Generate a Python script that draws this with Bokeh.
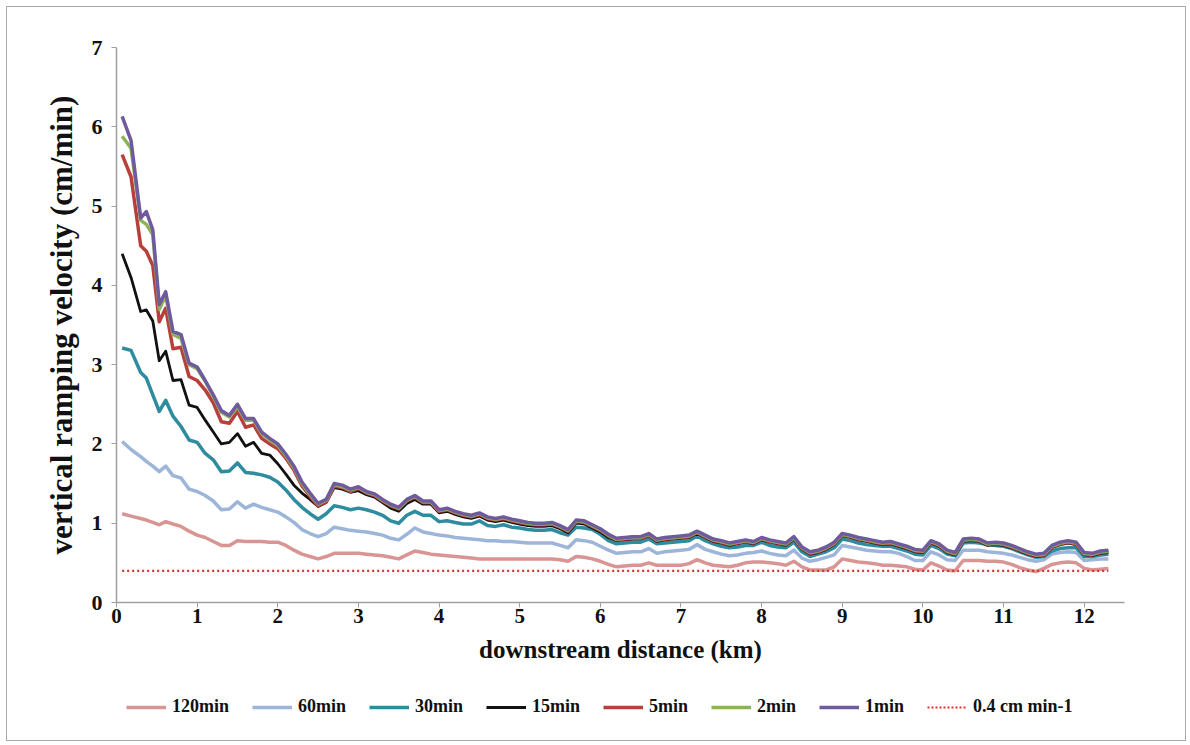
from bokeh.plotting import figure
from bokeh.models import Range1d, FixedTicker, Legend, LegendItem
from bokeh.layouts import column
from bokeh.embed import file_html
from bokeh.resources import INLINE

# downstream distance (km)
distance = [0.07, 0.18, 0.3, 0.37, 0.45, 0.53, 0.61, 0.7, 0.8, 0.9,
            1.0, 1.1, 1.2, 1.3, 1.4, 1.5, 1.6, 1.7, 1.8, 1.9,
            2.0, 2.1, 2.2, 2.3, 2.4, 2.5, 2.6, 2.7, 2.8, 2.9,
            3.0, 3.1, 3.2, 3.3, 3.4, 3.5, 3.6, 3.7, 3.8, 3.9,
            4.0, 4.1, 4.2, 4.3, 4.4, 4.5, 4.6, 4.7, 4.8, 4.9,
            5.0, 5.1, 5.2, 5.3, 5.4, 5.5, 5.6, 5.7, 5.8, 5.9,
            6.0, 6.1, 6.2, 6.3, 6.4, 6.5, 6.6, 6.7, 6.8, 6.9,
            7.0, 7.1, 7.2, 7.3, 7.4, 7.5, 7.6, 7.7, 7.8, 7.9,
            8.0, 8.1, 8.2, 8.3, 8.4, 8.5, 8.6, 8.7, 8.8, 8.9,
            9.0, 9.1, 9.2, 9.3, 9.4, 9.5, 9.6, 9.7, 9.8, 9.9,
            10.0, 10.1, 10.2, 10.3, 10.4, 10.5, 10.6, 10.7, 10.8, 10.9,
            11.0, 11.1, 11.2, 11.3, 11.4, 11.5, 11.6, 11.7, 11.8, 11.9,
            12.0, 12.1, 12.2, 12.3]

v_1min = [6.13, 5.83, 4.85, 4.93, 4.70, 3.76, 3.92, 3.42, 3.38, 3.02,
          2.97, 2.80, 2.62, 2.42, 2.36, 2.50, 2.32, 2.32, 2.15, 2.07,
          2.00, 1.87, 1.72, 1.52, 1.38, 1.25, 1.30, 1.50, 1.48, 1.43,
          1.46, 1.40, 1.37, 1.30, 1.24, 1.20, 1.30, 1.35, 1.28, 1.28,
          1.17, 1.19, 1.15, 1.12, 1.10, 1.13, 1.08, 1.06, 1.08, 1.05,
          1.03, 1.01, 1.00, 1.00, 1.01, 0.97, 0.92, 1.04, 1.03, 0.98,
          0.93, 0.86, 0.81, 0.82, 0.83, 0.83, 0.87, 0.80, 0.82, 0.83,
          0.84, 0.85, 0.90, 0.85, 0.80, 0.78, 0.75, 0.77, 0.79, 0.77,
          0.82, 0.79, 0.77, 0.75, 0.83, 0.70, 0.64, 0.66, 0.70, 0.76,
          0.87, 0.85, 0.82, 0.80, 0.78, 0.76, 0.77, 0.74, 0.71, 0.67,
          0.66, 0.78, 0.74, 0.66, 0.63, 0.80, 0.81, 0.80, 0.75, 0.76,
          0.75, 0.72, 0.68, 0.64, 0.61, 0.62, 0.72, 0.76, 0.78, 0.76,
          0.63, 0.62, 0.65, 0.66]

v_2min = [5.88, 5.73, 4.82, 4.77, 4.64, 3.70, 3.87, 3.38, 3.33, 3.00,
          2.95, 2.79, 2.60, 2.40, 2.34, 2.47, 2.30, 2.30, 2.13, 2.05,
          1.98, 1.85, 1.70, 1.50, 1.36, 1.24, 1.29, 1.49, 1.46, 1.42,
          1.45, 1.39, 1.36, 1.29, 1.23, 1.19, 1.29, 1.34, 1.27, 1.27,
          1.16, 1.18, 1.14, 1.11, 1.09, 1.12, 1.07, 1.05, 1.07, 1.04,
          1.02, 1.00, 0.99, 0.99, 1.00, 0.96, 0.91, 1.03, 1.02, 0.97,
          0.92, 0.85, 0.80, 0.81, 0.82, 0.82, 0.86, 0.79, 0.81, 0.82,
          0.83, 0.84, 0.89, 0.84, 0.79, 0.77, 0.74, 0.76, 0.78, 0.76,
          0.81, 0.78, 0.76, 0.74, 0.82, 0.69, 0.63, 0.65, 0.69, 0.75,
          0.86, 0.84, 0.81, 0.79, 0.77, 0.75, 0.76, 0.73, 0.70, 0.66,
          0.65, 0.77, 0.73, 0.65, 0.62, 0.79, 0.80, 0.79, 0.74, 0.75,
          0.74, 0.71, 0.67, 0.63, 0.60, 0.61, 0.71, 0.75, 0.77, 0.75,
          0.62, 0.61, 0.64, 0.65]

v_5min = [5.65, 5.37, 4.50, 4.43, 4.25, 3.54, 3.71, 3.20, 3.22, 2.85,
          2.80, 2.68, 2.52, 2.28, 2.26, 2.41, 2.21, 2.24, 2.07, 2.00,
          1.94, 1.82, 1.67, 1.47, 1.34, 1.22, 1.27, 1.47, 1.45, 1.40,
          1.44, 1.38, 1.35, 1.28, 1.22, 1.18, 1.28, 1.33, 1.26, 1.26,
          1.15, 1.17, 1.13, 1.10, 1.08, 1.11, 1.06, 1.04, 1.06, 1.03,
          1.01, 0.99, 0.98, 0.98, 0.99, 0.95, 0.90, 1.02, 1.01, 0.96,
          0.91, 0.84, 0.79, 0.80, 0.81, 0.81, 0.85, 0.78, 0.80, 0.81,
          0.82, 0.83, 0.88, 0.83, 0.78, 0.76, 0.73, 0.75, 0.77, 0.75,
          0.80, 0.77, 0.75, 0.73, 0.81, 0.68, 0.62, 0.64, 0.68, 0.74,
          0.85, 0.83, 0.80, 0.78, 0.76, 0.74, 0.75, 0.72, 0.69, 0.65,
          0.64, 0.76, 0.72, 0.64, 0.61, 0.78, 0.79, 0.78, 0.73, 0.74,
          0.73, 0.70, 0.66, 0.62, 0.59, 0.60, 0.70, 0.74, 0.76, 0.74,
          0.61, 0.60, 0.63, 0.64]

v_15min = [4.40, 4.10, 3.67, 3.69, 3.55, 3.05, 3.17, 2.80, 2.81, 2.49,
           2.46, 2.30, 2.15, 2.00, 2.02, 2.13, 1.97, 2.02, 1.88, 1.86,
           1.75, 1.62, 1.48, 1.38, 1.30, 1.21, 1.26, 1.45, 1.43, 1.39,
           1.41, 1.36, 1.33, 1.26, 1.19, 1.15, 1.25, 1.30, 1.24, 1.24,
           1.13, 1.15, 1.11, 1.08, 1.06, 1.09, 1.04, 1.02, 1.04, 1.01,
           0.99, 0.97, 0.96, 0.96, 0.97, 0.93, 0.88, 1.00, 0.99, 0.94,
           0.89, 0.82, 0.78, 0.79, 0.80, 0.80, 0.84, 0.77, 0.79, 0.80,
           0.81, 0.82, 0.87, 0.82, 0.77, 0.75, 0.72, 0.74, 0.76, 0.74,
           0.79, 0.76, 0.74, 0.72, 0.80, 0.67, 0.61, 0.63, 0.67, 0.73,
           0.84, 0.82, 0.79, 0.77, 0.75, 0.73, 0.74, 0.71, 0.68, 0.64,
           0.63, 0.75, 0.71, 0.63, 0.60, 0.77, 0.78, 0.77, 0.72, 0.73,
           0.72, 0.69, 0.65, 0.61, 0.58, 0.59, 0.69, 0.73, 0.75, 0.73,
           0.60, 0.59, 0.62, 0.63]

v_30min = [3.21, 3.18, 2.90, 2.83, 2.62, 2.41, 2.55, 2.35, 2.22, 2.05,
           2.02, 1.88, 1.80, 1.65, 1.66, 1.76, 1.64, 1.63, 1.61, 1.58,
           1.52, 1.42, 1.30, 1.20, 1.12, 1.05, 1.12, 1.22, 1.20, 1.17,
           1.19, 1.17, 1.14, 1.10, 1.03, 1.00, 1.10, 1.15, 1.10, 1.10,
           1.02, 1.03, 1.01, 0.99, 0.99, 1.03, 0.97, 0.96, 0.98, 0.95,
           0.94, 0.92, 0.91, 0.91, 0.92, 0.88, 0.85, 0.95, 0.94, 0.92,
           0.86, 0.78, 0.74, 0.75, 0.76, 0.76, 0.80, 0.74, 0.75, 0.76,
           0.77, 0.78, 0.84, 0.78, 0.74, 0.71, 0.69, 0.70, 0.72, 0.72,
           0.76, 0.72, 0.70, 0.69, 0.76, 0.64, 0.58, 0.61, 0.64, 0.69,
           0.80, 0.78, 0.75, 0.73, 0.72, 0.71, 0.71, 0.68, 0.65, 0.61,
           0.60, 0.72, 0.68, 0.61, 0.59, 0.75, 0.76, 0.75, 0.73, 0.72,
           0.71, 0.68, 0.64, 0.60, 0.57, 0.58, 0.65, 0.68, 0.69, 0.69,
           0.58, 0.58, 0.60, 0.61]

v_60min = [2.03, 1.93, 1.84, 1.78, 1.72, 1.65, 1.72, 1.60, 1.57, 1.43,
           1.40, 1.35, 1.28, 1.17, 1.18, 1.27, 1.19, 1.24, 1.20, 1.17,
           1.14, 1.08, 1.01, 0.92, 0.87, 0.83, 0.87, 0.95, 0.93, 0.91,
           0.90, 0.89, 0.87, 0.85, 0.81, 0.79, 0.86, 0.94, 0.89, 0.87,
           0.85, 0.84, 0.82, 0.81, 0.80, 0.79, 0.78, 0.78, 0.77, 0.77,
           0.76, 0.75, 0.75, 0.75, 0.75, 0.72, 0.69, 0.79, 0.78, 0.76,
           0.71, 0.66, 0.62, 0.63, 0.64, 0.64, 0.68, 0.62, 0.64, 0.65,
           0.66, 0.67, 0.73, 0.67, 0.64, 0.61, 0.59, 0.60, 0.62, 0.63,
           0.65, 0.62, 0.60, 0.59, 0.66, 0.56, 0.52, 0.54, 0.57, 0.60,
           0.72, 0.70, 0.68, 0.66, 0.65, 0.64, 0.64, 0.62, 0.58, 0.53,
           0.53, 0.64, 0.60, 0.54, 0.53, 0.66, 0.66, 0.66, 0.64, 0.63,
           0.62, 0.60, 0.57, 0.54, 0.52, 0.54, 0.61, 0.63, 0.64, 0.63,
           0.53, 0.54, 0.55, 0.55]

v_120min = [1.12, 1.09, 1.06, 1.04, 1.01, 0.98, 1.02, 0.99, 0.96, 0.90,
            0.85, 0.82, 0.77, 0.72, 0.72, 0.78, 0.77, 0.77, 0.77, 0.76,
            0.76, 0.72, 0.66, 0.61, 0.58, 0.55, 0.58, 0.62, 0.62, 0.62,
            0.62, 0.61, 0.60, 0.59, 0.57, 0.55, 0.60, 0.65, 0.63, 0.61,
            0.60, 0.59, 0.58, 0.57, 0.56, 0.55, 0.55, 0.55, 0.55, 0.55,
            0.55, 0.55, 0.55, 0.55, 0.55, 0.54, 0.52, 0.58, 0.57, 0.55,
            0.52, 0.48, 0.45, 0.46, 0.47, 0.47, 0.50, 0.47, 0.47, 0.47,
            0.47, 0.49, 0.54, 0.50, 0.47, 0.46, 0.45, 0.47, 0.50, 0.51,
            0.51, 0.50, 0.49, 0.47, 0.52, 0.45, 0.41, 0.41, 0.41, 0.45,
            0.55, 0.53, 0.51, 0.50, 0.49, 0.47, 0.47, 0.46, 0.45, 0.42,
            0.41, 0.50, 0.46, 0.41, 0.40, 0.53, 0.53, 0.53, 0.52, 0.52,
            0.51, 0.48, 0.44, 0.41, 0.39, 0.43, 0.48, 0.50, 0.51, 0.50,
            0.43, 0.41, 0.42, 0.43]

threshold_value = 0.4
threshold_label = "0.4 cm min-1"

series_labels = ["120min", "60min", "30min", "15min", "5min", "2min", "1min"]
series_values = [v_120min, v_60min, v_30min, v_15min, v_5min, v_2min, v_1min]
series_colors = ["#D99593", "#9DB5D8", "#2F8C9E", "#111111", "#B8403C", "#8DB35A", "#6F5A9E"]
series_widths = [3.5, 3.5, 3.5, 2.8, 3.5, 3.5, 3.5]

x_ticks = [0, 1, 2, 3, 4, 5, 6, 7, 8, 9, 10, 11, 12]
y_ticks = [0, 1, 2, 3, 4, 5, 6, 7]

FONT = "Liberation Serif"
THR_COLOR = "#E0302C"

p = figure(width=1178, height=668, output_backend="svg", toolbar_location=None,
           x_range=Range1d(0, 12.5), y_range=Range1d(0, 7),
           min_border_left=109, min_border_right=61, min_border_top=40,
           min_border_bottom=73)
p.outline_line_color = None
p.xgrid.grid_line_color = None
p.ygrid.grid_line_color = None

for ax in (p.xaxis[0], p.yaxis[0]):
    ax.axis_line_color = "#a0a0a0"
    ax.axis_line_width = 1.5
    ax.major_tick_line_color = "#a0a0a0"
    ax.major_tick_out = 5
    ax.major_tick_in = 0
    ax.minor_tick_line_color = None
    ax.major_label_text_font = FONT
    ax.major_label_text_font_style = "bold"
    ax.major_label_text_color = "#111111"
    ax.axis_label_text_font = FONT
    ax.axis_label_text_font_style = "bold"
    ax.axis_label_text_color = "#111111"

p.xaxis.ticker = FixedTicker(ticks=x_ticks)
p.yaxis.ticker = FixedTicker(ticks=y_ticks)
p.xaxis.major_label_text_font_size = "21px"
p.yaxis.major_label_text_font_size = "22px"
p.xaxis.axis_label = "downstream distance (km)"
p.yaxis.axis_label = "vertical ramping velocity (cm/min)"
p.xaxis.axis_label_text_font_size = "25px"
p.yaxis.axis_label_text_font_size = "31px"
p.xaxis.major_label_standoff = 1
p.xaxis.axis_label_standoff = 10
p.yaxis.major_label_standoff = 9
p.yaxis.axis_label_standoff = 10

for lab, vals, col, w in zip(series_labels, series_values, series_colors, series_widths):
    p.line(distance, vals, line_color=col, line_width=w, line_join="round")

p.line([distance[0], distance[-1]], [threshold_value, threshold_value],
       line_color=THR_COLOR, line_width=2.2, line_dash="2 3")

# legend strip under the chart
q = figure(width=1178, height=65, output_backend="svg", toolbar_location=None,
           x_range=Range1d(0, 1), y_range=Range1d(0, 1),
           x_axis_type=None, y_axis_type=None,
           min_border_left=0, min_border_right=0, min_border_top=0, min_border_bottom=0)
q.outline_line_color = None
q.xgrid.grid_line_color = None
q.ygrid.grid_line_color = None

items = []
for lab, col, w in zip(series_labels, series_colors, series_widths):
    r = q.line([-5, -4], [-5, -5], line_color=col, line_width=w)
    items.append(LegendItem(label=lab, renderers=[r]))
rt = q.line([-5, -4], [-5, -5], line_color=THR_COLOR, line_width=2, line_dash="2 2")
items.append(LegendItem(label=threshold_label, renderers=[rt]))

legend = Legend(items=items, orientation="horizontal", location=(10, 23),
                label_text_font=FONT, label_text_font_style="bold",
                label_text_font_size="18px", label_text_color="#111111",
                glyph_width=40, glyph_height=18, label_standoff=6, spacing=23,
                border_line_color=None, background_fill_alpha=0,
                margin=0, padding=2)
q.add_layout(legend, "center")

layout = column(p, q, spacing=0, margin=(6, 6, 6, 6),
                styles={"border": "1px solid #a8a8a8"})

open("out.html", "w").write(file_html(layout, INLINE))
